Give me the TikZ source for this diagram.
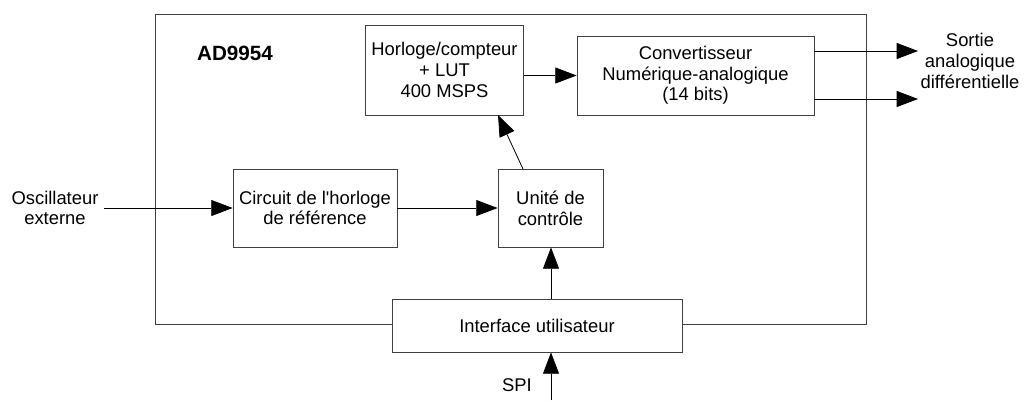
\documentclass[tikz,border=0pt]{standalone}
\usepackage{fontspec}
\setmainfont{Liberation Sans}
\usetikzlibrary{arrows.meta}
\begin{document}
\begin{tikzpicture}[x=0.75pt,y=-0.75pt,
  box/.style={draw=black!75,line width=0.6pt,fill=white,align=center,inner sep=0pt,font=\fontsize{13.8}{15.5}\selectfont},
  lbl/.style={align=center,inner sep=0pt,font=\fontsize{13.8}{15.5}\selectfont},
  arr/.style={-{Triangle[length=16pt,width=12pt]},line width=0.6pt}]
\useasboundingbox (0,0) rectangle (1035,400);
% outer box
\draw[line width=0.6pt,draw=black!75] (155,14) rectangle (866,324);
\node[font=\bfseries\fontsize{15.5}{17}\selectfont,inner sep=0pt] (title) at (235,53) {AD9954};
% boxes
\node[box,minimum width=158*0.75pt,minimum height=90*0.75pt] (hor) at (444.5,70) {Horloge/compteur\\+ LUT\\400 MSPS};
\node[box,minimum width=237*0.75pt,minimum height=79*0.75pt] (conv) at (695.5,75.5) {Convertisseur\\Numérique-analogique\\(14 bits)};
\node[box,minimum width=164*0.75pt,minimum height=78*0.75pt] (circ) at (315,208) {Circuit de l\textquotesingle horloge\\de référence};
\node[box,minimum width=105*0.75pt,minimum height=78*0.75pt] (unit) at (550.5,208) {Unité de\\contrôle};
\node[box,minimum width=290*0.75pt,minimum height=53*0.75pt] (iface) at (537,325.5) {Interface utilisateur};
% labels
\node[lbl] (osc) at (55,208) {Oscillateur\\externe};
\node[lbl] (sort) at (970,61) {Sortie\\analogique\\différentielle};
\node[lbl,anchor=base] (spi) at (517,391) {SPI};
\coordinate (oscR) at (104,208);
\coordinate (spiB) at (551,400);
\coordinate (o1) at (918,51);
\coordinate (o2) at (918,99);
% connectors
\draw[arr] (oscR) -- (circ.west);
\draw[arr] (circ.east) -- (unit.west);
\draw[arr] (hor.east|-conv.west) -- (conv.west);
\draw[arr] (523,169) -- (498,115);
\draw[arr] (iface.north-|551,0) -- (unit.south-|551,0);
\draw[arr] (spiB) -- (iface.south-|spiB);
\draw[arr] (conv.east|-o1) -- (o1);
\draw[arr] (conv.east|-o2) -- (o2);
\end{tikzpicture}
\end{document}
